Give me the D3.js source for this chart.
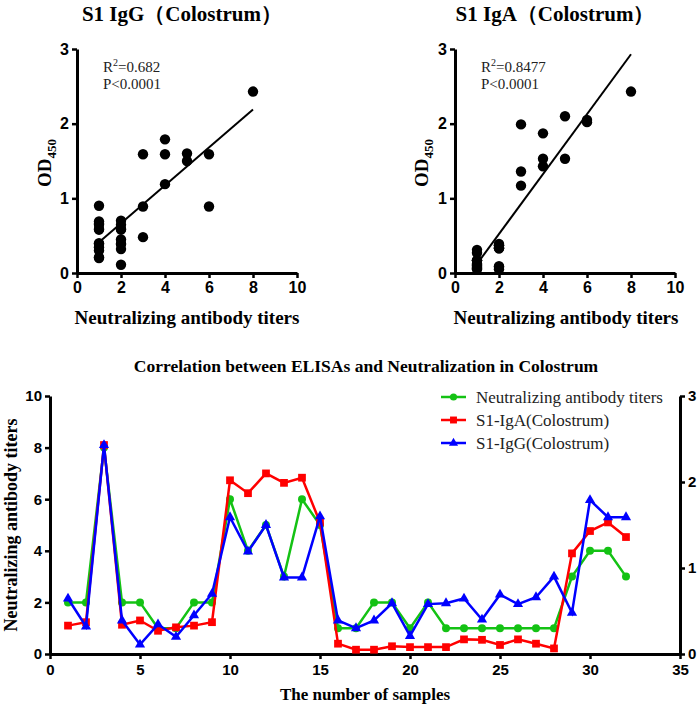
<!DOCTYPE html>
<html><head><meta charset="utf-8">
<script src="https://cdn.jsdelivr.net/npm/d3@7"></script>
<style>
body{margin:0;background:#fff;}
svg{display:block;}
.serif{font-family:"Liberation Serif","Times New Roman",serif;}
.sans{font-family:"Liberation Sans",Arial,sans-serif;}
</style></head>
<body>
<svg id="c" width="700" height="713"></svg>
<script>
// ---------- data ----------
const samples = d3.range(1, 33);
const neutTiters = [2,2,8,2,2,1,1,2,2,6,4,5,3,6,5,1,1,2,2,1,2,1,1,1,1,1,1,1,3,4,4,3];
const igaOD = [0.33,0.37,2.43,0.34,0.39,0.27,0.31,0.33,0.37,2.02,1.87,2.10,1.99,2.05,1.53,0.12,0.05,0.05,0.09,0.08,0.08,0.08,0.17,0.165,0.105,0.17,0.12,0.065,1.17,1.43,1.53,1.36];
const iggOD = [0.645,0.32,2.43,0.39,0.11,0.345,0.20,0.45,0.70,1.59,1.19,1.50,0.89,0.89,1.60,0.39,0.30,0.39,0.59,0.21,0.58,0.59,0.645,0.40,0.69,0.58,0.66,0.90,0.48,1.79,1.59,1.59];
const scatterXTicks = [0,2,4,6,8,10];
const scatterYTicks = [0,1,2,3];
const lineXTicks = [0,5,10,15,20,25,30,35];
const leftYTicks = [0,2,4,6,8,10];
const rightYTicks = [0,1,2,3];
const seriesNames = ["Neutralizing antibody titers","S1-IgA(Colostrum)","S1-IgG(Colostrum)"];
const seriesColors = ["#14c214","#ff0000","#0000ff"];

const svg = d3.select("#c");
const fmt = d3.format("d");

function linreg(xs, ys){
  const n = xs.length, mx = d3.mean(xs), my = d3.mean(ys);
  let sxy=0, sxx=0;
  for(let i=0;i<n;i++){sxy+=(xs[i]-mx)*(ys[i]-my); sxx+=(xs[i]-mx)**2;}
  const b = sxy/sxx; return {b, a: my - b*mx};
}

function scatter(ox, title, ys, r2, titleCx, xlabCx, ylabX){
  const x = d3.scaleLinear().domain([0,10]).range([ox, ox+220]);
  const y = d3.scaleLinear().domain([0,3]).range([273, 49]);
  const g = svg.append("g");
  g.append("text").attr("class","serif").attr("x",titleCx).attr("y",21)
    .attr("text-anchor","middle").attr("font-weight","bold").attr("font-size",21).text(title);
  const xa = g.append("g").attr("transform",`translate(0,273)`)
    .call(d3.axisBottom(x).tickValues(scatterXTicks).tickFormat(fmt).tickSize(5).tickSizeOuter(0).tickPadding(4));
  const ya = g.append("g").attr("transform",`translate(${ox},0)`)
    .call(d3.axisLeft(y).tickValues(scatterYTicks).tickFormat(fmt).tickSize(5).tickSizeOuter(0).tickPadding(3));
  [xa,ya].forEach(a=>{
    a.select(".domain").attr("stroke","#000").attr("stroke-width",3);
    a.selectAll(".tick line").attr("stroke","#000").attr("stroke-width",2.5);
    a.selectAll(".tick text").attr("class","sans").attr("font-weight","bold").attr("font-size",16).attr("fill","#000");
  });
  // regression
  const fit = linreg(neutTiters, ys);
  const x0 = d3.min(neutTiters), x1 = d3.max(neutTiters);
  g.append("line").attr("x1",x(x0)).attr("y1",y(fit.a+fit.b*x0)).attr("x2",x(x1)).attr("y2",y(fit.a+fit.b*x1))
    .attr("stroke","#000").attr("stroke-width",2);
  g.selectAll("circle").data(ys).join("circle")
    .attr("cx",(d,i)=>x(neutTiters[i])).attr("cy",d=>y(d)).attr("r",5.2).attr("fill","#000");
  const t = g.append("text").attr("class","serif").attr("x",ox+26).attr("y",72).attr("font-size",15).attr("fill","#222");
  t.append("tspan").text("R");
  t.append("tspan").attr("font-size",10).attr("dy",-6).text("2");
  t.append("tspan").attr("dy",6).text("=" + r2);
  g.append("text").attr("class","serif").attr("x",ox+26).attr("y",89).attr("font-size",15).attr("fill","#222").text("P<0.0001");
  g.append("text").attr("class","serif").attr("x",xlabCx).attr("y",324).attr("text-anchor","middle")
    .attr("font-weight","bold").attr("font-size",19).text("Neutralizing antibody titers");
  const yl = g.append("text").attr("class","serif").attr("transform",`translate(${ylabX},163) rotate(-90)`)
    .attr("text-anchor","middle").attr("font-weight","bold").attr("font-size",19);
  yl.append("tspan").text("OD");
  yl.append("tspan").attr("font-size",13).attr("dy",5).text("450");
}
scatter(77, "S1 IgG（Colostrum）", iggOD, "0.682", 182, 187, 51);
scatter(455, "S1 IgA（Colostrum）", igaOD, "0.8477", 555, 566, 428);

// ---------- bottom line chart ----------
const X = d3.scaleLinear().domain([0,35]).range([50,680]);
const YL = d3.scaleLinear().domain([0,10]).range([654,396]);
const YR = d3.scaleLinear().domain([0,3]).range([654,396]);
const gb = svg.append("g");
gb.append("text").attr("class","serif").attr("x",366).attr("y",372).attr("text-anchor","middle")
  .attr("font-weight","bold").attr("font-size",17.5).text("Correlation between ELISAs and Neutralization in Colostrum");
const bx = gb.append("g").attr("transform","translate(0,654)")
  .call(d3.axisBottom(X).tickValues(lineXTicks).tickFormat(fmt).tickSize(5).tickSizeOuter(0).tickPadding(5));
const byl = gb.append("g").attr("transform","translate(50,0)")
  .call(d3.axisLeft(YL).tickValues(leftYTicks).tickFormat(fmt).tickSize(5).tickSizeOuter(0).tickPadding(3));
const byr = gb.append("g").attr("transform","translate(680,0)")
  .call(d3.axisRight(YR).tickValues(rightYTicks).tickFormat(fmt).tickSize(5).tickSizeOuter(0).tickPadding(3));
[bx,byl,byr].forEach(a=>{
  a.select(".domain").attr("stroke","#000").attr("stroke-width",3);
  a.selectAll(".tick line").attr("stroke","#000").attr("stroke-width",2.5);
  a.selectAll(".tick text").attr("class","sans").attr("font-weight","bold").attr("font-size",15).attr("fill","#000");
});
gb.append("text").attr("class","serif").attr("x",365).attr("y",700).attr("text-anchor","middle")
  .attr("font-weight","bold").attr("font-size",17).text("The number of samples");
gb.append("text").attr("class","serif").attr("transform","translate(17,525) rotate(-90)").attr("text-anchor","middle")
  .attr("font-weight","bold").attr("font-size",18).text("Neutralizing antibody titers");

const series = [
  {vals: neutTiters, y: YL, sym: d3.symbolCircle, size: 50},
  {vals: igaOD, y: YR, sym: d3.symbolSquare, size: 60},
  {vals: iggOD, y: YR, sym: d3.symbolTriangle, size: 45}
];
series.forEach((s,k)=>{
  const line = d3.line().x((d,i)=>X(samples[i])).y(d=>s.y(d));
  gb.append("path").attr("d",line(s.vals)).attr("fill","none").attr("stroke",seriesColors[k]).attr("stroke-width",2.5);
  gb.append("g").selectAll("path").data(s.vals).join("path")
    .attr("transform",(d,i)=>`translate(${X(samples[i])},${s.y(d)})`)
    .attr("d",d3.symbol(s.sym,s.size)).attr("fill",seriesColors[k]);
});
// legend
const legY = [397,420,443];
series.forEach((s,k)=>{
  gb.append("line").attr("x1",441).attr("x2",466).attr("y1",legY[k]).attr("y2",legY[k])
    .attr("stroke",seriesColors[k]).attr("stroke-width",2.5);
  gb.append("path").attr("transform",`translate(453.5,${legY[k]})`).attr("d",d3.symbol(s.sym,s.size*0.8)).attr("fill",seriesColors[k]);
  gb.append("text").attr("class","serif").attr("x",476).attr("y",legY[k]+6).attr("font-size",17).attr("fill","#222").text(seriesNames[k]);
});
</script>
</body></html>
